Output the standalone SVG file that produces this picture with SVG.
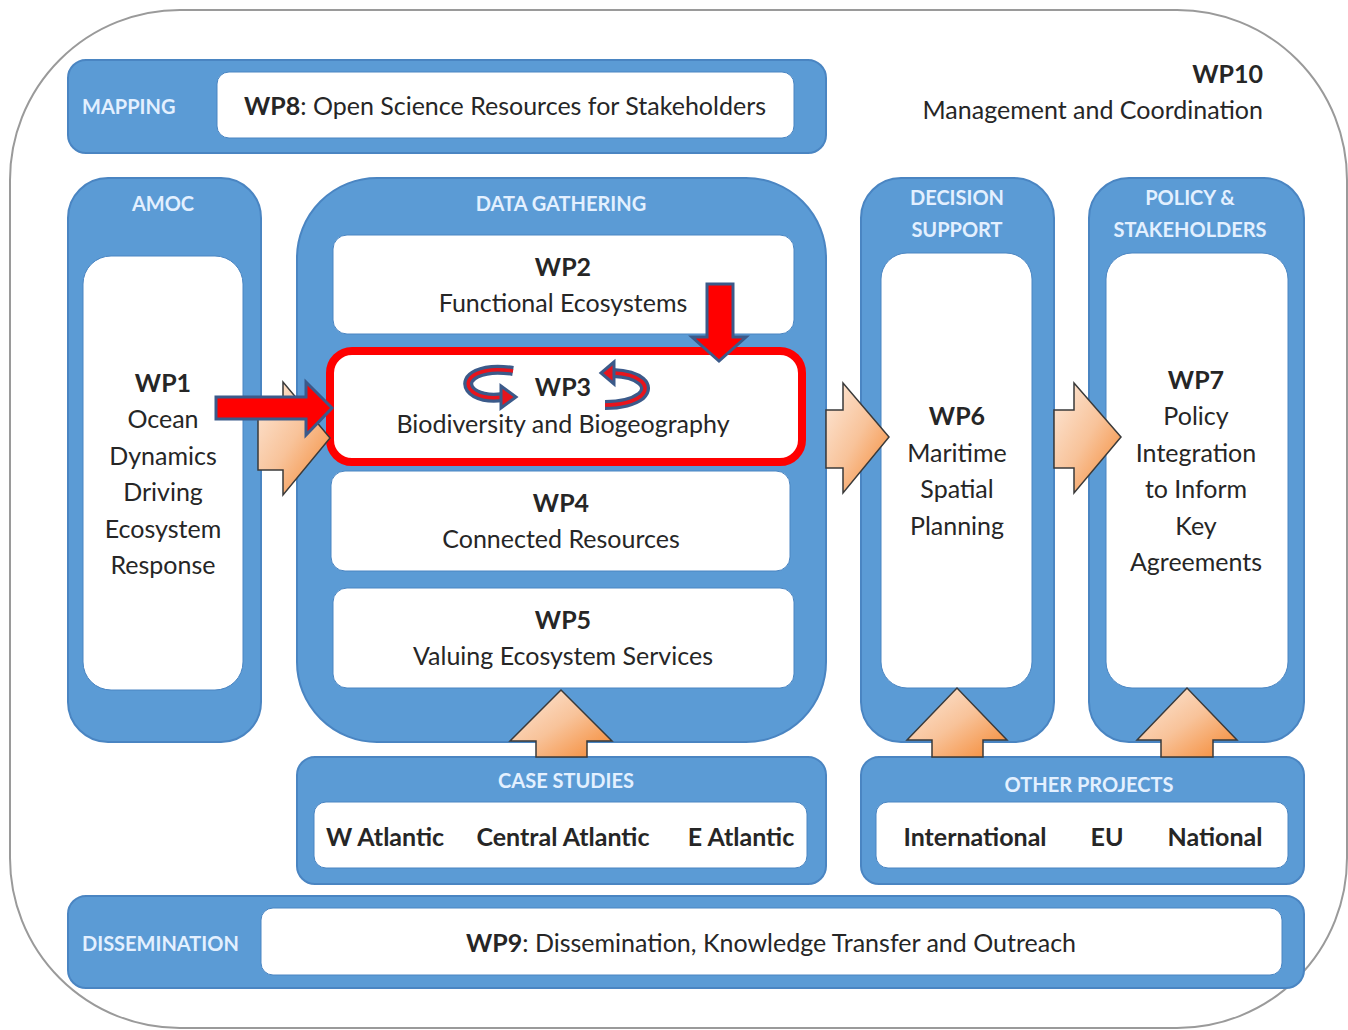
<svg xmlns="http://www.w3.org/2000/svg" width="1348" height="1030" viewBox="0 0 1348 1030">
<defs>
<style>
.box{fill:#5b9bd5;stroke:#4a85c2;stroke-width:2}
.inner{fill:#ffffff;stroke:#4a85c2;stroke-width:1}
.lab{font-family:Lato,"Open Sans",sans-serif;font-weight:bold;font-size:20px;fill:#e3f0ff}
.t{font-family:Lato,"Open Sans",sans-serif;font-size:25px;fill:#262626}
.b{font-weight:bold}
.c{text-anchor:middle}
.oa{fill:url(#og);stroke:#3a3a3a;stroke-width:1.5;stroke-linejoin:miter}
.ra{fill:#ff0000;stroke:#3b5a8a;stroke-width:3;stroke-linejoin:miter}
</style>
<linearGradient id="og" x1="0" y1="0" x2="1" y2="1">
<stop offset="0" stop-color="#fde9da"/>
<stop offset="0.5" stop-color="#f8c39a"/>
<stop offset="1" stop-color="#f5862e"/>
</linearGradient>
</defs>
<rect width="1348" height="1030" fill="#ffffff"/>
<g id="frame">
<rect x="10" y="10" width="1337" height="1018" rx="170" ry="170" fill="none" stroke="#9a9a9a" stroke-width="2"/>
</g>
<g id="wp10">
<text class="t b" x="1263" y="83" text-anchor="end">WP10</text>
<text class="t" x="1263" y="119" text-anchor="end">Management and Coordination</text>
</g>
<g id="mapping">
<rect class="box" x="68" y="60" width="758" height="93" rx="18"/>
<rect class="inner" x="217" y="72" width="577" height="66" rx="12"/>
<text class="lab" x="82" y="114">MAPPING</text>
<text class="t" x="505" y="115" text-anchor="middle"><tspan class="b">WP8</tspan>: Open Science Resources for Stakeholders</text>
</g>
<g id="amoc">
<rect class="box" x="68" y="178" width="193" height="564" rx="40"/>
<rect class="inner" x="83" y="256" width="160" height="434" rx="28"/>
<text class="lab c" x="163" y="211">AMOC</text>
<text class="t c" x="163" y="392"><tspan class="b">WP1</tspan></text>
<text class="t c" x="163" y="428">Ocean</text>
<text class="t c" x="163" y="465">Dynamics</text>
<text class="t c" x="163" y="501">Driving</text>
<text class="t c" x="163" y="538">Ecosystem</text>
<text class="t c" x="163" y="574">Response</text>
</g>
<g id="data-gathering">
<rect class="box" x="297" y="178" width="529" height="564" rx="80"/>
<text class="lab c" x="561" y="211">DATA GATHERING</text>
</g>
<g id="wp2">
<rect class="inner" x="333" y="235" width="461" height="99" rx="14"/>
<text class="t b c" x="563" y="276">WP2</text>
<text class="t c" x="563" y="312">Functional Ecosystems</text>
</g>
<g id="wp3">
<rect x="330" y="351" width="472" height="111" rx="22" fill="#ffffff" stroke="#ff0000" stroke-width="8"/>
<text class="t b c" x="563" y="396">WP3</text>
<text class="t c" x="563" y="433">Biodiversity and Biogeography</text>
</g>
<g id="wp4">
<rect class="inner" x="331" y="471" width="459" height="100" rx="14"/>
<text class="t b c" x="561" y="512">WP4</text>
<text class="t c" x="561" y="548">Connected Resources</text>
</g>
<g id="wp5">
<rect class="inner" x="333" y="588" width="461" height="100" rx="14"/>
<text class="t b c" x="563" y="629">WP5</text>
<text class="t c" x="563" y="665">Valuing Ecosystem Services</text>
</g>
<g id="decision-support">
<rect class="box" x="861" y="178" width="193" height="564" rx="40"/>
<rect class="inner" x="881" y="253" width="151" height="435" rx="26"/>
<text class="lab c" x="957" y="205">DECISION</text>
<text class="lab c" x="957" y="237">SUPPORT</text>
<text class="t b c" x="957" y="425">WP6</text>
<text class="t c" x="957" y="462">Maritime</text>
<text class="t c" x="957" y="498">Spatial</text>
<text class="t c" x="957" y="535">Planning</text>
</g>
<g id="policy">
<rect class="box" x="1089" y="178" width="215" height="564" rx="40"/>
<rect class="inner" x="1106" y="253" width="182" height="435" rx="26"/>
<text class="lab c" x="1190" y="205">POLICY &amp;</text>
<text class="lab c" x="1190" y="237">STAKEHOLDERS</text>
<text class="t b c" x="1196" y="389">WP7</text>
<text class="t c" x="1196" y="425">Policy</text>
<text class="t c" x="1196" y="462">Integration</text>
<text class="t c" x="1196" y="498">to Inform</text>
<text class="t c" x="1196" y="535">Key</text>
<text class="t c" x="1196" y="571">Agreements</text>
</g>
<g id="case-studies">
<rect class="box" x="297" y="757" width="529" height="127" rx="18"/>
<rect class="inner" x="314" y="802" width="493" height="66" rx="12"/>
<text class="lab c" x="566" y="788">CASE STUDIES</text>
<text class="t b c" x="385" y="846">W Atlantic</text>
<text class="t b c" x="563" y="846">Central Atlantic</text>
<text class="t b c" x="741" y="846">E Atlantic</text>
</g>
<g id="other-projects">
<rect class="box" x="861" y="757" width="443" height="127" rx="18"/>
<rect class="inner" x="876" y="802" width="412" height="66" rx="12"/>
<text class="lab c" x="1089" y="792">OTHER PROJECTS</text>
<text class="t b c" x="975" y="846">International</text>
<text class="t b c" x="1107" y="846">EU</text>
<text class="t b c" x="1215" y="846">National</text>
</g>
<g id="dissemination">
<rect class="box" x="68" y="896" width="1236" height="92" rx="18"/>
<rect class="inner" x="261" y="908" width="1021" height="67" rx="12"/>
<text class="lab" x="82" y="951">DISSEMINATION</text>
<text class="t" x="771" y="952" text-anchor="middle"><tspan class="b">WP9</tspan>: Dissemination, Knowledge Transfer and Outreach</text>
</g>
<g id="connectors">
<polygon class="oa" points="258,406 283,406 283,382 330,438 283,495 283,470 258,470"/>
<polygon class="oa" points="826,410 843,410 843,383 889,437 843,493 843,468 826,468"/>
<polygon class="oa" points="1054,410 1074,410 1074,383 1121,437 1074,493 1074,468 1054,468"/>
<polygon class="oa" points="536,757 536,741 510,741 561,690 612,741 587,741 587,757"/>
<polygon class="oa" points="932,757 932,740 907,740 957,688 1007,740 983,740 983,757"/>
<polygon class="oa" points="1161,757 1161,740 1137,740 1187,688 1237,740 1213,740 1213,757"/>
<polygon class="ra" points="216,397 306,397 306,382 332,408 306,435 306,419 216,419"/>
<polygon class="ra" points="707,284 733,284 733,337 746,337 719,361 692,337 707,337"/>
<path d="M513 371 C482 366 462 377 470 389 C476 397 490 399 503 397" fill="none" stroke="#3b5a8a" stroke-width="10"/>
<path d="M513 371 C482 366 462 377 470 389 C476 397 490 399 503 397" fill="none" stroke="#e8141c" stroke-width="3.5"/>
<polygon points="501,386 516,397 501,408" fill="#e8141c" stroke="#3b5a8a" stroke-width="3" stroke-linejoin="miter"/>
<path d="M613 373 C640 374 652 386 641 396 C633 402 619 405 605 405" fill="none" stroke="#3b5a8a" stroke-width="10"/>
<path d="M613 373 C640 374 652 386 641 396 C633 402 619 405 605 405" fill="none" stroke="#e8141c" stroke-width="3.5"/>
<polygon points="614,362 601,373 614,384" fill="#e8141c" stroke="#3b5a8a" stroke-width="3" stroke-linejoin="miter"/>
</g>
</svg>
